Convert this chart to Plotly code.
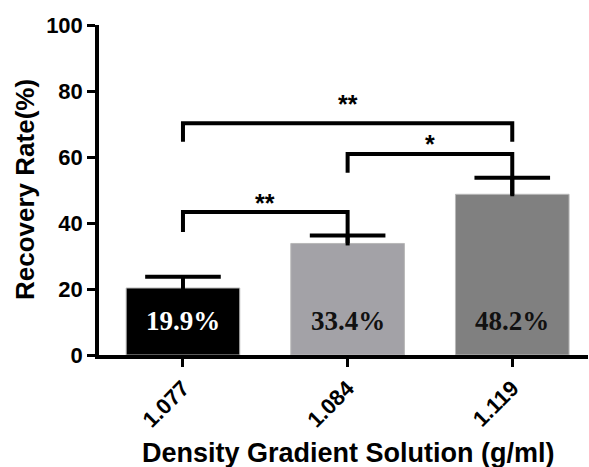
import plotly.graph_objects as go

# ---- data ----
categories = ["1.077", "1.084", "1.119"]
recovery = [20.3, 33.8, 48.7]          # bar heights (%)
sd_upper = [3.4, 2.4, 5.0]             # upper error bars
bar_labels = ["19.9%", "33.4%", "48.2%"]
label_colors = ["white", "#111111", "#111111"]
bar_colors = ["#000000", "#a3a2a7", "#808080"]
label_y = 10.3

# significance comparisons
cmp_left = [0, 1, 0]
cmp_right = [1, 2, 2]
cmp_text = ["**", "*", "**"]
cmp_top = [43.3, 60.9, 70.2]
cmp_left_bottom = [37.3, 55.2, 64.6]
cmp_right_bottom = [33.9, 48.5, 64.6]
cmp_text_y = [46.0, 63.8, 76.0]

y_ticks = [0, 20, 40, 60, 80, 100]

xs = list(range(len(categories)))
err_top = [recovery[i] + sd_upper[i] for i in range(len(xs))]

fig = go.Figure()
fig.add_trace(go.Bar(
    x=xs, y=recovery, width=0.69,
    marker=dict(color=bar_colors, line=dict(color="#b8b8b8", width=1)),
    showlegend=False, hoverinfo="skip",
))
# error bar stems (no caps) + caps as markers
fig.add_trace(go.Scatter(
    x=xs, y=recovery, mode="markers",
    marker=dict(size=1, color="rgba(0,0,0,0)"),
    error_y=dict(type="data", symmetric=False, array=sd_upper,
                 arrayminus=[0.6] * len(sd_upper),
                 color="black", thickness=4, width=0),
    showlegend=False, hoverinfo="skip",
))
fig.add_trace(go.Scatter(
    x=xs, y=err_top, mode="markers",
    marker=dict(symbol="line-ew", size=54, line=dict(color="black", width=4)),
    showlegend=False, hoverinfo="skip",
))

shapes = []
annotations = []
for i in range(len(cmp_text)):
    a, b = cmp_left[i], cmp_right[i]
    shapes.append(dict(
        type="path", xref="x", yref="y",
        path=f"M {a},{cmp_left_bottom[i]} L {a},{cmp_top[i]} L {b},{cmp_top[i]} L {b},{cmp_right_bottom[i]}",
        line=dict(color="black", width=4),
    ))
    annotations.append(dict(
        x=(a + b) / 2, y=cmp_text_y[i], xref="x", yref="y",
        text=cmp_text[i], showarrow=False, xanchor="center", yanchor="middle",
        font=dict(family="Liberation Sans, Arial", size=25, color="black", weight="bold"),
    ))

for i, lab in enumerate(bar_labels):
    annotations.append(dict(
        x=xs[i], y=label_y, xref="x", yref="y", text=lab, showarrow=False,
        xanchor="center", yanchor="middle",
        font=dict(family="Liberation Serif, Times New Roman", size=27,
                  color=label_colors[i], weight="bold"),
    ))

annotations.append(dict(
    x=(25 - 99) / 489, y=0.5, xref="paper", yref="paper",
    text="Recovery Rate(%)", textangle=-90, showarrow=False,
    xanchor="center", yanchor="middle",
    font=dict(family="Liberation Sans, Arial", size=26, color="black", weight="bold"),
))
annotations.append(dict(
    x=(348 - 99) / 489, y=(355 - 453) / 330, xref="paper", yref="paper",
    text="Density Gradient Solution (g/ml)", showarrow=False,
    xanchor="center", yanchor="middle",
    font=dict(family="Liberation Sans, Arial", size=27, color="black", weight="bold"),
))

fig.update_layout(
    width=589, height=467,
    margin=dict(l=99, r=1, t=25, b=112, autoexpand=False),
    plot_bgcolor="white", paper_bgcolor="white",
    shapes=shapes, annotations=annotations,
    xaxis=dict(
        range=[-0.51, 2.46], tickvals=xs, ticktext=categories,
        tickangle=-45, ticks="outside", ticklen=8, tickwidth=3, tickcolor="black",
        showline=True, linewidth=3.5, linecolor="black",
        showgrid=False, zeroline=False,
        tickfont=dict(family="Liberation Sans, Arial", size=22, color="black", weight="bold"),
    ),
    yaxis=dict(
        range=[0, 100], tickvals=y_ticks,
        ticks="outside", ticklen=8, tickwidth=3, tickcolor="black",
        showline=True, linewidth=3.5, linecolor="black",
        showgrid=False, zeroline=False,
        tickfont=dict(family="Liberation Sans, Arial", size=22, color="black", weight="bold"),
    ),
)

fig.write_html("out.html", config={"displayModeBar": False},
               post_script="document.body.style.margin='0';")
